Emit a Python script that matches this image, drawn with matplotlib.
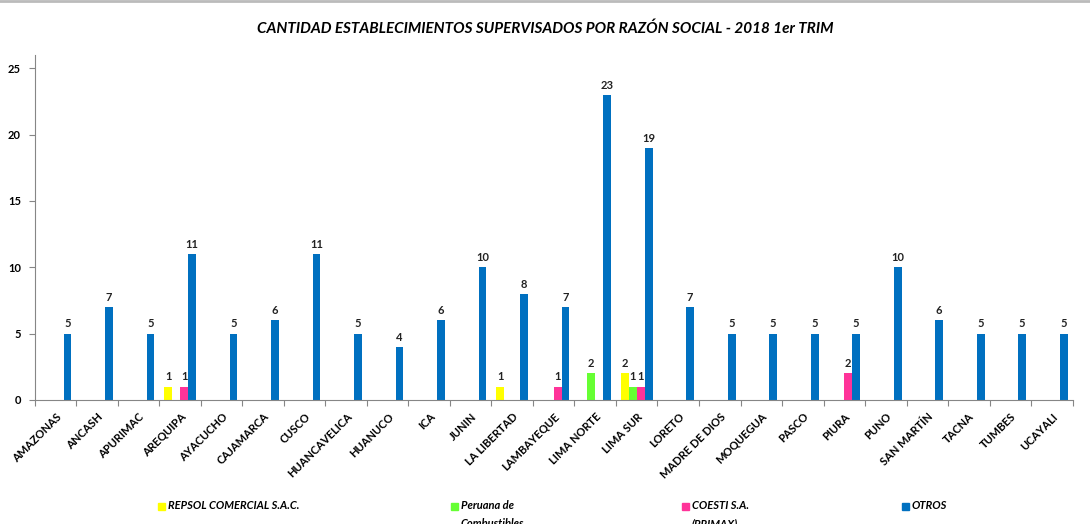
import matplotlib.pyplot as plt
import numpy as np
from matplotlib.lines import Line2D
from matplotlib.patches import Rectangle

plt.rcParams['font.family'] = ['Lato', 'DejaVu Sans']

# Datos del gráfico
categorias = ["AMAZONAS", "ANCASH", "APURIMAC", "AREQUIPA", "AYACUCHO", "CAJAMARCA",
              "CUSCO", "HUANCAVELICA", "HUANUCO", "ICA", "JUNIN", "LA LIBERTAD",
              "LAMBAYEQUE", "LIMA NORTE", "LIMA SUR", "LORETO", "MADRE DE DIOS",
              "MOQUEGUA", "PASCO", "PIURA", "PUNO", "SAN MARTÍN", "TACNA", "TUMBES",
              "UCAYALI"]
repsol = [0, 0, 0, 1, 0, 0, 0, 0, 0, 0, 0, 1, 0, 0, 2, 0, 0, 0, 0, 0, 0, 0, 0, 0, 0]
peruana = [0, 0, 0, 0, 0, 0, 0, 0, 0, 0, 0, 0, 0, 2, 1, 0, 0, 0, 0, 0, 0, 0, 0, 0, 0]
coesti = [0, 0, 0, 1, 0, 0, 0, 0, 0, 0, 0, 0, 1, 0, 1, 0, 0, 0, 0, 2, 0, 0, 0, 0, 0]
otros = [5, 7, 5, 11, 5, 6, 11, 5, 4, 6, 10, 8, 7, 23, 19, 7, 5, 5, 5, 5, 10, 6, 5, 5, 5]

series = [
    ("REPSOL COMERCIAL S.A.C.", repsol, "#FFFF00"),
    ("Peruana de\nCombustibles...", peruana, "#66FF33"),
    ("COESTI S.A.\n(PRIMAX)", coesti, "#FF3399"),
    ("OTROS", otros, "#0070C0"),
]

W, H = 1090, 524
fig = plt.figure(figsize=(W / 100, H / 100), dpi=100)
ax = fig.add_axes([0.032, 0.237, 0.952, 0.658])

x = np.arange(len(categorias))
w = 0.19
for i, (nombre, vals, color) in enumerate(series):
    bars = ax.bar(x + (i - 1.5) * w, vals, w, color=color, label=nombre)
    etiquetas = [str(v) if v else "" for v in vals]
    ax.bar_label(bars, labels=etiquetas, padding=3, fontsize=8, fontweight='bold',
                 color='#222222')

ax.set_xlim(-0.5, len(categorias) - 0.5)
ax.set_ylim(0, 26)
ax.set_yticks([0, 5, 10, 15, 20, 25])
ax.tick_params(axis='y', labelsize=8, length=4, color='#868686', pad=6)
for t in ax.get_yticklabels():
    t.set_fontweight('bold')

# marcas en los límites de categoría, etiquetas en el centro
ax.set_xticks(np.arange(len(categorias) + 1) - 0.5)
ax.set_xticklabels([])
ax.tick_params(axis='x', which='major', length=4, color='#868686')
ax.set_xticks(x, minor=True)
ax.set_xticklabels(categorias, minor=True, rotation=45, ha='right',
                   rotation_mode='anchor', fontsize=8, fontweight='bold')
ax.tick_params(axis='x', which='minor', length=0, pad=8)

for s in ['top', 'right']:
    ax.spines[s].set_visible(False)
for s in ['left', 'bottom']:
    ax.spines[s].set_color('#868686')

fig.text(0.5, 0.945, "CANTIDAD ESTABLECIMIENTOS SUPERVISADOS POR RAZÓN SOCIAL - 2018 1er TRIM",
         ha='center', va='center', fontsize=11, fontweight='bold', fontstyle='italic')

# leyenda manual (la segunda línea queda cortada por el borde inferior)
leyenda_x = [158, 451, 682, 902]
for (nombre, vals, color), lx in zip(series, leyenda_x):
    fig.add_artist(Rectangle((lx / W, 1 - 510 / H), 7 / W, 7 / H, color=color,
                             transform=fig.transFigure))
    fig.text((lx + 10) / W, 1 - 500 / H, nombre, ha='left', va='top', fontsize=8,
             fontweight='bold', fontstyle='italic', linespacing=1.75)

fig.add_artist(Line2D([0, 1], [0.998, 0.998], color='#bbbbbb', lw=2))

fig.savefig("out.png", dpi=100)
